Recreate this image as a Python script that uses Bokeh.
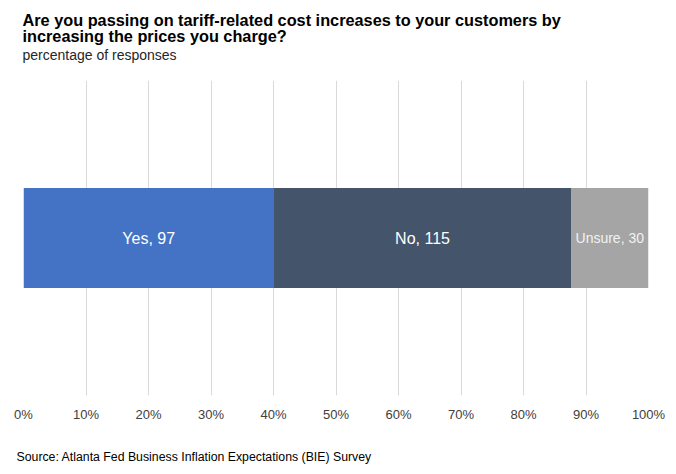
from bokeh.plotting import figure
from bokeh.models import FixedTicker, ColumnDataSource, LabelSet, Title
from bokeh.core.properties import value
from bokeh.embed import file_html
from bokeh.resources import INLINE

categories = ["Yes", "No", "Unsure"]
counts = [97, 115, 30]
colors = ["#4472C4", "#44546A", "#A5A5A5"]
tick_values = [0, 10, 20, 30, 40, 50, 60, 70, 80, 90, 100]

total = sum(counts)
pcts = [c / total * 100 for c in counts]
lefts, rights = [], []
acc = 0.0
for p_ in pcts:
    lefts.append(acc)
    acc += p_
    rights.append(acc)

src = ColumnDataSource(dict(
    left=lefts, right=rights, y=[0.5] * 3, color=colors,
    mid=[(l + r) / 2 for l, r in zip(lefts, rights)],
    label=[f"{c}, {n}" for c, n in zip(categories, counts)],
    size=["16px", "16px", "14px"],
    tcolor=["#FFFFFF", "#FFFFFF", "#F2F2F2"],
))

FONT = "Liberation Sans"

p = figure(width=676, height=474, x_range=(0, 100), y_range=(0, 1),
           output_backend="svg", toolbar_location=None,
           min_border_left=23, min_border_right=28,
           min_border_top=80, min_border_bottom=79)
p.outline_line_color = None
p.background_fill_color = "white"
p.border_fill_color = "white"

p.hbar(y="y", left="left", right="right", height=100 / 315, color="color",
       line_color=None, source=src)

p.add_layout(LabelSet(x="mid", y="y", text="label", source=src,
                      text_align="center", text_baseline="middle",
                      text_color="tcolor", text_font=value(FONT),
                      text_font_size="size"))

p.yaxis.visible = False
p.ygrid.visible = False
p.xgrid.ticker = FixedTicker(ticks=tick_values)
p.xgrid.grid_line_color = "#D9D9D9"
p.xaxis.ticker = FixedTicker(ticks=tick_values)
p.xaxis.major_label_overrides = {t: f"{t}%" for t in tick_values}
p.xaxis.axis_line_color = None
p.xaxis.major_tick_line_color = None
p.xaxis.minor_tick_line_color = None
p.xaxis.major_tick_out = 0
p.xaxis.major_tick_in = 0
p.xaxis.minor_tick_out = 0
p.xaxis.major_label_standoff = 11
p.xaxis.major_label_text_font = FONT
p.xaxis.major_label_text_font_size = "13px"
p.xaxis.major_label_text_color = "#404040"

title_txt = ("Are you passing on tariff-related cost increases to your customers by\n"
             "increasing the prices you charge?")
subtitle = "percentage of responses"
source_txt = "Source: Atlanta Fed Business Inflation Expectations (BIE) Survey"

# nearest to the plot first; blank lines give the gaps
p.add_layout(Title(text=subtitle + "\n ", text_font=FONT, text_font_size="14px",
                   text_font_style="normal", text_color="#262626",
                   text_line_height=1.1,
                   align="left", offset=-1, standoff=0), "above")
p.add_layout(Title(text=title_txt, text_font=FONT, text_font_size="16.3px",
                   text_font_style="bold", text_color="#000000",
                   text_line_height=0.9,
                   align="left", offset=-1, standoff=-1), "above")
p.add_layout(Title(text=" \n" + source_txt, text_font=FONT, text_font_size="12.3px",
                   text_font_style="normal", text_color="#000000",
                   text_line_height=1.2,
                   align="left", offset=-7, standoff=14), "below")

open("out.html", "w").write(file_html(p, INLINE))
